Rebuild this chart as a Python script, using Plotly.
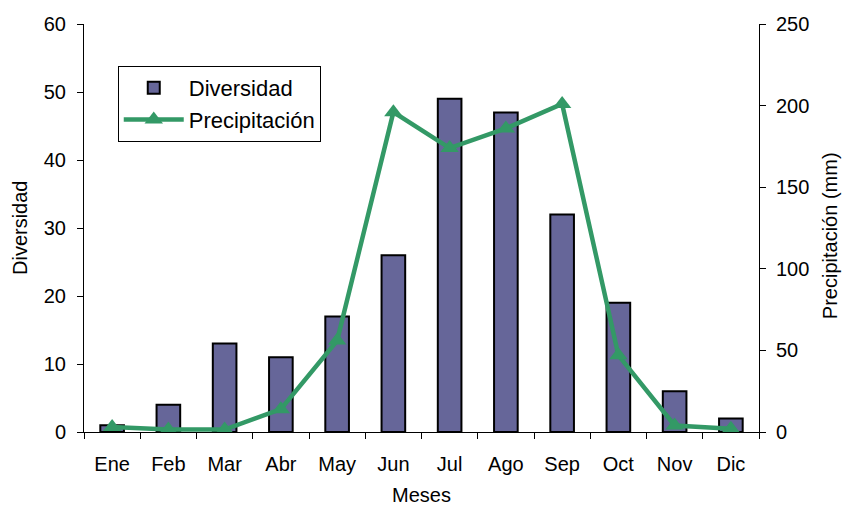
import plotly.graph_objects as go

meses = ["Ene", "Feb", "Mar", "Abr", "May", "Jun", "Jul", "Ago", "Sep", "Oct", "Nov", "Dic"]
diversidad = [1, 4, 13, 11, 17, 26, 49, 47, 32, 19, 6, 2]
precipitacion = [3, 1.5, 1.5, 14, 56, 196, 174, 186, 201, 47, 4, 2]

xpos = list(range(len(meses)))
boundaries = [i - 0.5 for i in range(len(meses) + 1)]

FONT = "Liberation Sans, Arial, sans-serif"
BAR = "#666699"
LINE = "#339966"

fig = go.Figure()
fig.add_trace(go.Bar(
    x=xpos, y=diversidad, name="Diversidad",
    marker=dict(color=BAR, line=dict(color="black", width=2)),
    width=0.42, xaxis="x", yaxis="y",
))
fig.add_trace(go.Scatter(
    x=xpos, y=precipitacion, name="Precipitación",
    mode="lines+markers",
    line=dict(color=LINE, width=4.5),
    marker=dict(symbol="triangle-up", size=16, color=LINE),
    xaxis="x", yaxis="y2",
))

axis_common = dict(showgrid=False, zeroline=False, linecolor="black", linewidth=1,
                   tickcolor="black", ticklen=6, tickwidth=1, automargin=False)

fig.update_layout(
    width=843, height=506,
    margin=dict(l=84, r=84, t=24, b=74),
    paper_bgcolor="white", plot_bgcolor="white",
    font=dict(family=FONT, size=20, color="black"),
    showlegend=True,
    legend=dict(x=0.05, y=0.897, xanchor="left", yanchor="top",
                bordercolor="black", borderwidth=1, bgcolor="white",
                font=dict(size=22), itemwidth=60, tracegroupgap=0),
    xaxis=dict(range=[-0.5, 11.5], tickmode="array", tickvals=xpos, ticktext=meses,
               ticks="", showline=True, linecolor="black", showgrid=False, zeroline=False,
               automargin=False, ticklabelstandoff=14,
               minor=dict(tickmode="array", tickvals=boundaries, ticks="outside",
                          ticklen=6, tickcolor="black", showgrid=False)),
    xaxis3=dict(range=[-0.5, 11.5], overlaying="x", anchor="y", side="bottom",
                tickmode="array", tickvals=boundaries, showticklabels=False,
                ticks="inside", ticklen=6, tickcolor="black", automargin=False,
                showline=False, showgrid=False, zeroline=False),
    yaxis=dict(range=[0, 60], dtick=10, ticks="outside", showline=True,
               ticklabelstandoff=7, **axis_common),
    yaxis3=dict(range=[0, 60], dtick=10, overlaying="y", side="left", anchor="x",
                ticks="inside", showticklabels=False, showline=False, automargin=False,
                showgrid=False, zeroline=False, ticklen=6, tickcolor="black"),
    yaxis2=dict(range=[0, 250], dtick=50, ticks="outside", showline=True,
                overlaying="y", side="right", anchor="x",
                ticklabelstandoff=6, **axis_common),
    yaxis4=dict(range=[0, 250], dtick=50, overlaying="y", side="right", anchor="x",
                ticks="inside", showticklabels=False, showline=False, automargin=False,
                showgrid=False, zeroline=False, ticklen=6, tickcolor="black"),
    annotations=[
        dict(text="Meses", xref="paper", yref="paper", x=0.5, y=0,
             xanchor="center", yanchor="middle", yshift=-63, showarrow=False,
             font=dict(size=20)),
        dict(text="Diversidad", xref="paper", yref="paper", x=0, y=0.5,
             xanchor="center", yanchor="middle", xshift=-64, textangle=-90,
             showarrow=False, font=dict(size=20)),
        dict(text="Precipitación (mm)", xref="paper", yref="paper", x=1, y=0.48,
             xanchor="center", yanchor="middle", xshift=71, textangle=-90,
             showarrow=False, font=dict(size=20)),
    ],
)

fig.write_html("out.html", config={"displayModeBar": False},
               post_script="document.body.style.margin='0';document.body.style.overflow='hidden';")
